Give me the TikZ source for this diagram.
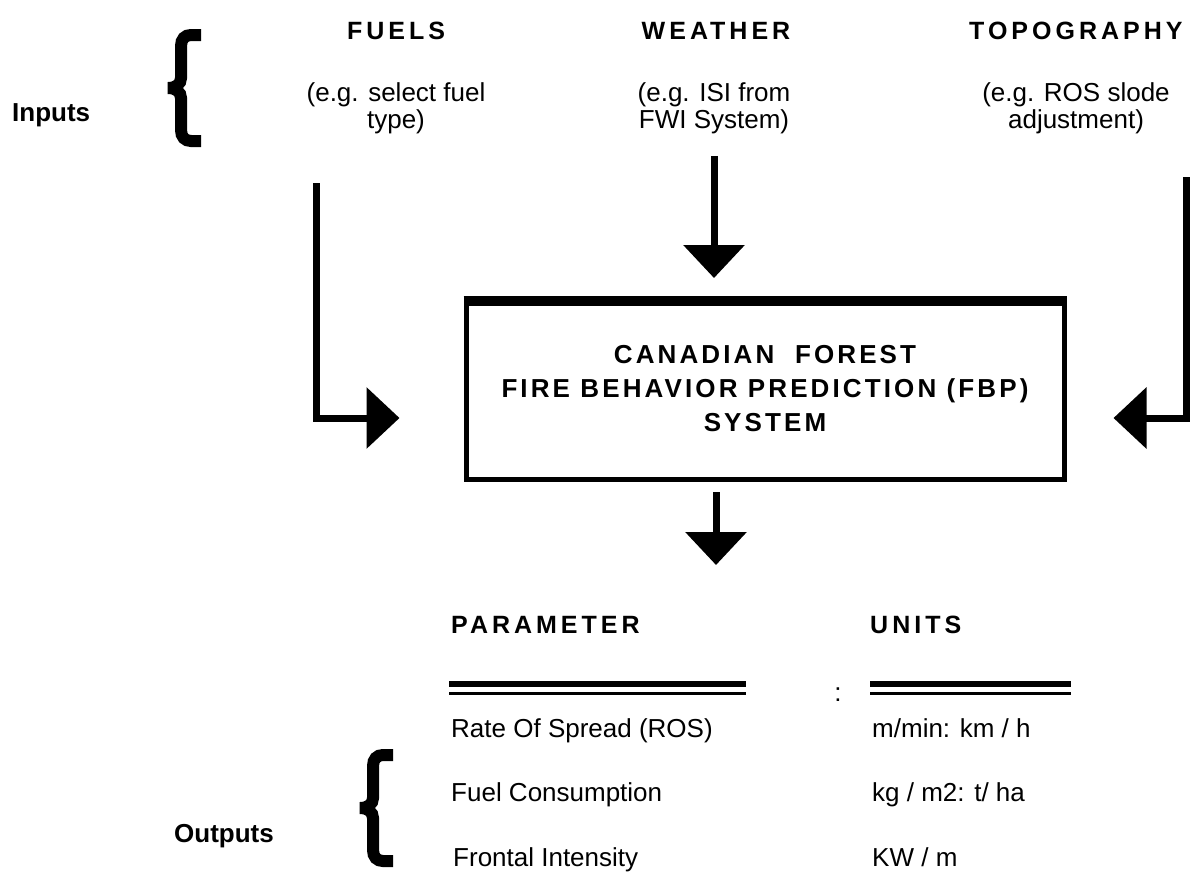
\documentclass[tikz,border=0pt]{standalone}
\usepackage{fontspec}
\setmainfont{Liberation Sans}
\newfontfamily\spacedfont[LetterSpace=16]{Liberation Sans}
\newfontfamily\boxfont[LetterSpace=12]{Liberation Sans}
\usetikzlibrary{arrows.meta,positioning}

\begin{document}
\begin{tikzpicture}[x=1pt,y=-1pt,>={Triangle[width=60pt,length=33pt]},
    heading/.style={font=\spacedfont\bfseries\fontsize{25}{28}\selectfont,inner sep=0pt},
    note/.style={font=\fontsize{26}{27}\selectfont,align=center,inner sep=0pt},
    row/.style={font=\fontsize{26}{30}\selectfont,anchor=base west,inner sep=0pt},
    side/.style={font=\bfseries\fontsize{26}{30}\selectfont,anchor=base west,inner sep=0pt},
    flow/.style={line width=7pt},
    curlybar/.style={line width=12pt}]
  \useasboundingbox (0,0) rectangle (1193,871);

  % inputs
  \node[side] (inputs) at (12,121) {Inputs};
  \draw[curlybar,shift={(161,28)}] (40,7) -- (30,7) .. controls (24,7) and (20,11) .. (20,18)
    -- (20,50) .. controls (20,56) and (15,60) .. (7,60) .. controls (15,60) and (20,64) .. (20,70)
    -- (20,102) .. controls (20,109) and (24,113) .. (30,113) -- (40,113);
  \node[heading,anchor=base] (fuels) at (396,39) {FUELS};
  \node[heading,anchor=base] (weather) at (716,39) {WEATHER};
  \node[heading,anchor=base west] (topo) at (969,39) {TOPOGRAPHY};
  \node[note] (fuelsdesc) at (396,108) {(e.g. select fuel\\type)};
  \node[note] (weatherdesc) at (714,108) {(e.g. ISI from\\FWI System)};
  \node[note] (topodesc) at (1076,108) {(e.g. ROS slode\\adjustment)};

  % the system
  \node[draw,line width=5pt,minimum width=598pt,minimum height=181pt,inner sep=0pt,
    font=\boxfont\bfseries\fontsize{26}{34}\selectfont,align=center] (fbp) at (765,389)
    {CANADIAN~~FOREST\\FIRE BEHAVIOR PREDICTION (FBP)\\SYSTEM};
  \draw[line width=10pt] ([yshift=-5pt]fbp.north west) -- ([yshift=-5pt]fbp.north east);

  % arrows in
  \coordinate (fuelsin) at (316,183);
  \coordinate (topoin) at (1186,177);
  \draw[flow,->,shorten <=22pt,shorten >=18pt] (weatherdesc) -- (weatherdesc |- fbp.north);
  \draw[flow,->,shorten >=64pt] (fuelsin) |- ([yshift=-29pt]fbp.west);
  \draw[flow,->,shorten >=47pt] (topoin) |- ([yshift=-29pt]fbp.east);

  % arrow out
  \coordinate (outhead) at (716,565);
  \draw[flow,->,shorten <=10pt] (fbp.south -| outhead) -- (outhead);

  % outputs
  \node[heading,anchor=base west] (param) at (451,633) {PARAMETER};
  \node[heading,anchor=base west] (units) at (870,633) {UNITS};
  \foreach \a/\b in {449/746,870/1071} {
    \draw[line width=6pt] (\a,684) -- (\b,684);
    \draw[line width=3pt] (\a,693.5) -- (\b,693.5);
  }
  \node[font=\fontsize{26}{30}\selectfont,inner sep=0pt] (colon) at (838,695) {:};
  \node[row] (ros) at (451,737) {Rate Of Spread (ROS)};
  \node[row] (fuelcons) at (451,801) {Fuel Consumption};
  \node[row] (intensity) at (453,866) {Frontal Intensity};
  \node[row] (rosunit) at (872,737) {m/min: km / h};
  \node[row] (fuelunit) at (872,801) {kg / m2: t/ ha};
  \node[row] (intensityunit) at (872,866) {KW / m};
  \node[side] (outputs) at (174,842) {Outputs};
  \draw[curlybar,shift={(353,748)}] (40,7) -- (30,7) .. controls (24,7) and (20,11) .. (20,18)
    -- (20,50) .. controls (20,56) and (15,60) .. (7,60) .. controls (15,60) and (20,64) .. (20,70)
    -- (20,102) .. controls (20,109) and (24,113) .. (30,113) -- (40,113);
\end{tikzpicture}
\end{document}
